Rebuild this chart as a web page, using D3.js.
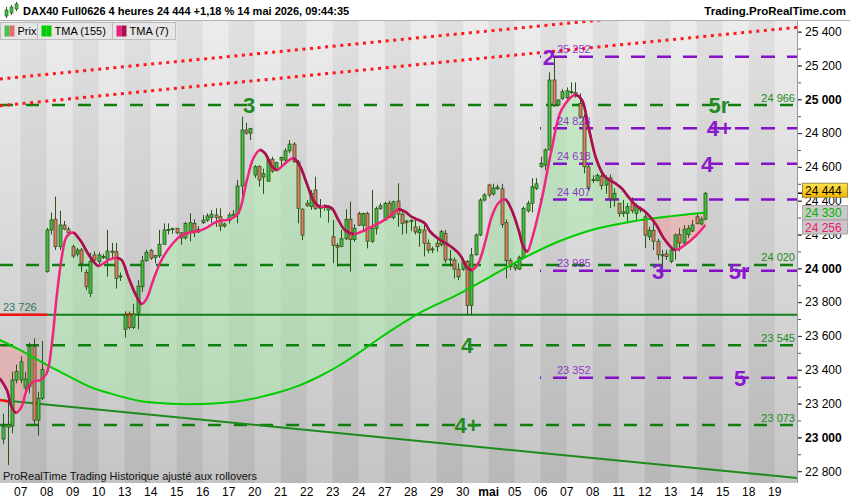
<!DOCTYPE html>
<html>
<head>
<meta charset="utf-8">
<script src="https://cdn.jsdelivr.net/npm/d3@7"></script>
<style>
  body { margin: 0; background: #fff; }
  svg { display: block; font-family: "Liberation Sans", Arial, sans-serif; }
</style>
</head>
<body>
<script>
/* DAX40 4h chart, ProRealTime style */

// day labels, one per trading day, 6 bars a day
const dayLabels = ["07","08","09","10","13","14","15","16","17","20","21","22","23","24","27","28","29","30",
                   "mai","05","06","07","08","11","12","13","14","15","18","19"];

// first bar index (bars before day 07 belong to the previous day)
const firstBar = -4;

// [open, high, low, close]
const ohlc = [
  [22990,23140,22960,23065],[23060,23220,22836,23075],[23067,23388,23024,23339],[23339,23430,23320,23390],
  // 07
  [23340,23480,23320,23447],[23297,23388,23260,23345],[23299,23560,23260,23536],[23536,23586,23080,23102],[23102,23270,23010,23231],[23231,23570,23221,23402],
  // 08
  [23980,24240,23975,24227],[24227,24330,24200,24286],[24290,24424,24108,24128],[24128,24340,24108,24256],[24256,24280,24225,24232],[24232,24245,24195,24210],
  // 09
  [24128,24140,24060,24073],[24085,24120,24070,24108],[24108,24120,23980,24030],[23975,23995,23870,23891],[23852,24090,23830,24040],[24079,24100,24030,24049],
  // 10
  [24040,24095,24020,24079],[24065,24085,24055,24070],[24055,24227,23950,24102],[24102,24150,24060,24095],[24098,24150,23880,23940],[23950,23975,23925,23955],
  // 13
  [23639,23745,23590,23724],[23724,23745,23640,23650],[23650,23790,23640,23730],[23734,23930,23640,23895],[23891,24074,23860,24045],[24045,24110,24040,24095],
  // 14
  [24105,24115,24050,24060],[24065,24080,24030,24075],[24074,24227,24062,24142],[24142,24266,24140,24227],[24225,24266,24200,24230],[24230,24240,24205,24235],
  // 15
  [24235,24240,24200,24210],[24210,24215,24140,24180],[24180,24275,24170,24265],[24215,24325,24160,24270],[24265,24290,24185,24215],[24215,24250,24210,24230],
  // 16
  [24270,24315,24262,24285],[24285,24325,24275,24310],[24300,24345,24270,24320],[24315,24355,24245,24300],[24305,24355,24220,24250],[24250,24270,24240,24262],
  // 17
  [24283,24330,24265,24315],[24310,24345,24300,24320],[24320,24522,24266,24487],[24487,24897,24404,24818],[24818,24860,24790,24800],[24800,24830,24759,24828],
  // 20
  [24552,24610,24535,24601],[24601,24610,24483,24522],[24540,24590,24440,24560],[24515,24660,24515,24645],[24645,24660,24565,24575],[24580,24630,24575,24625],
  // 21
  [24640,24660,24610,24655],[24640,24710,24630,24695],[24695,24759,24680,24735],[24735,24745,24625,24630],[24630,24640,24266,24355],[24350,24355,24167,24197],
  // 22
  [24385,24404,24365,24370],[24365,24463,24345,24444],[24463,24542,24345,24355],[24355,24410,24300,24365],[24365,24380,24340,24360],[24345,24365,24270,24360],
  // 23
  [24187,24286,24030,24135],[24135,24150,24010,24125],[24130,24227,24125,24175],[24175,24350,24167,24290],[24290,24394,23980,24170],[24170,24260,24157,24237],
  // 24
  [24325,24335,24250,24255],[24255,24330,24220,24325],[24325,24335,24118,24160],[24160,24463,24150,24237],[24237,24365,24200,24355],[24355,24385,24345,24370],
  // 27
  [24286,24394,24280,24385],[24385,24400,24296,24300],[24300,24400,24290,24394],[24398,24503,24246,24320],[24320,24330,24200,24265],[24280,24285,24205,24270],
  // 28
  [24283,24290,24220,24280],[24245,24286,24200,24215],[24210,24250,24128,24230],[24227,24270,24070,24148],[24148,24170,24089,24108],[24110,24128,24090,24115],
  // 29
  [24148,24170,24098,24128],[24140,24227,24128,24217],[24207,24227,24030,24049],[24049,24108,24010,24055],[24049,24065,23940,23995],[23995,24030,23930,23950],
  // 30
  [23995,24060,23985,24040],[24040,24049,23724,23780],[23780,24120,23724,24080],[24080,24207,24075,24197],[24197,24415,24190,24404],[24404,24445,24395,24434],
  // mai (04)
  [24493,24500,24420,24434],[24440,24500,24430,24475],[24470,24495,24465,24480],[24470,24500,24240,24260],[24270,24290,23940,24045],[24045,24060,23990,24010],
  // 05
  [24000,24030,23985,24020],[23995,24075,23990,24065],[24065,24365,24060,24355],[24340,24400,24330,24385],[24385,24533,24330,24483],[24473,24533,24463,24500],
  // 06
  [24601,24660,24595,24621],[24610,24710,24580,24700],[24700,25160,24700,25114],[25114,25252,24955,24966],[24966,25000,24960,24996],[25005,25060,24996,25045],
  // 07
  [25010,25070,24996,25050],[25040,25100,25030,25045],[25040,25100,25010,25030],[24975,25035,24890,24895],[24895,24910,24562,24601],[24601,24611,24460,24480],
  // 08
  [24525,24550,24505,24520],[24520,24560,24515,24550],[24545,24585,24465,24490],[24493,24550,24440,24535],[24535,24555,24355,24414],[24410,24473,24365,24444],
  // 11
  [24385,24385,24305,24325],[24325,24405,24305,24335],[24325,24385,24266,24365],[24390,24420,24325,24340],[24325,24385,24280,24365],[24355,24365,24330,24345],
  // 12
  [24305,24325,24120,24197],[24187,24246,24167,24225],[24225,24276,24108,24160],[24160,24175,24049,24080],[24080,24108,24010,24075],[24085,24108,24050,24070],
  // 13
  [24040,24118,24030,24108],[24108,24207,24050,24197],[24200,24237,24100,24150],[24150,24256,24140,24230],[24200,24256,24180,24237],[24220,24286,24215,24256],
  // 14
  [24305,24325,24260,24266],[24262,24305,24256,24290],[24290,24452,24285,24444]
];

// moving averages: [bar index, value]
const tma155 = [
  [-4.8,23576],[-0.2,23517],[6.1,23428],[9.1,23388],[16.0,23299],[20.6,23260],[27.5,23215],[32.2,23203],
  [36.8,23197],[41.4,23197],[46.0,23203],[50.6,23215],[55.2,23238],[59.8,23268],[64.5,23309],[69.1,23363],
  [73.7,23428],[78.3,23505],[82.9,23588],[87.5,23665],[92.1,23737],[96.8,23795],[101.4,23852],[108.3,23950],
  [117.5,24079],[124.0,24157],[131.8,24227],[139.5,24270],[147.1,24299],[158.3,24330]
];
const tma7 = [
  [-4.8,23349],[-3.2,23280],[-2.1,23181],[-1.1,23146],[0.2,23181],[1.4,23280],[2.9,23329],[4.5,23339],
  [6.0,23379],[7.2,23556],[8.3,23832],[9.5,24069],[10.6,24187],[12.1,24211],[13.7,24167],[16.0,24069],
  [17.9,24014],[19.1,24030],[20.6,24053],[22.2,24063],[23.3,24049],[24.8,23950],[26.4,23852],[27.9,23789],
  [29.1,23822],[30.6,23931],[32.5,24049],[34.8,24138],[37.2,24197],[39.5,24213],[41.8,24227],[43.3,24246],
  [44.8,24270],[46.0,24282],[48.3,24290],[50.2,24325],[52.2,24522],[53.7,24651],[55.2,24700],[56.4,24680],
  [57.9,24605],[59.1,24582],[60.6,24611],[62.9,24651],[64.5,24601],[66.0,24503],[67.5,24404],[69.1,24364],
  [70.2,24369],[71.8,24355],[73.3,24286],[74.8,24227],[76.8,24203],[78.7,24217],[81.0,24246],[83.3,24276],
  [85.6,24315],[87.1,24349],[88.7,24335],[90.2,24305],[91.8,24286],[93.3,24266],[94.5,24217],[96.8,24167],
  [99.1,24132],[101.4,24079],[102.9,24009],[104.1,23990],[105.6,24030],[107.2,24157],[108.7,24305],[110.2,24385],
  [111.8,24408],[113.3,24345],[114.9,24227],[116.0,24128],[116.9,24099],[117.9,24167],[120.2,24404],[122.5,24700],
  [124.8,24937],[127.9,25025],[129.5,24996],[131.0,24838],[132.9,24641],[134.8,24542],[137.2,24503],[138.7,24473],
  [140.2,24424],[141.8,24375],[144.1,24335],[146.4,24266],[148.7,24167],[151.0,24108],[153.3,24138],[155.6,24187],
  [158.0,24256]
];

// horizontal levels
const greenLevels = [24966, 24020, 23545, 23073];
const purpleLevels = [25252, 24828, 24618, 24407, 23985, 23352];
const supportLevel = 23726;
// sloping lines: [[bar, value], [bar, value]]
const trendLine = [[-4.8, 23221], [179.4, 22759]];
const dottedLines = [
  [[-4.8, 25120], [179.4, 25584]],
  [[-4.8, 24962], [179.4, 25426]]
];
// short red marks on lines: [bar0, bar1, value0, value1]
const redMarks = [[-4.8, 6.1, 23726, 23726], [24.1, 25.9, 23726, 23726], [-4.8, -2.0, 23221, 23207], [3.3, 4.0, 23203, 23200]];
// wave counts: text, bar, level, colour key
const waveLabels = [
  ["3", 52.7, 24966, "g"], ["5r", 161.1, 24966, "g"], ["4", 103.0, 23545, "g"], ["4+", 103.0, 23073, "g"],
  ["2", 121.9, 25252, "p"], ["4+", 161.2, 24828, "p"], ["4", 158.4, 24618, "p"], ["5r", 165.8, 23985, "p"],
  ["5", 166.0, 23352, "p"], ["3", 147.1, 23985, "p"]
];

const W = 850, H = 500;
const plot = {left: 0, right: 797, top: 21, bottom: 483};
const GREEN_LINE = "#0f7f0f", PURPLE = "#8410c8", GREEN_TXT = "#1d8a1d";

const svg = d3.select("body").append("svg").attr("width", W).attr("height", H);
const defs = svg.append("defs");

const x = d3.scaleLinear().domain([0, 174]).range([20.7, 774.7]);
const y = d3.scaleLinear().domain([22730, 25463]).range([plot.bottom, plot.top]);
const fmt = v => d3.format(",")(v).replace(/,/g, " ");

function grad(id, top, bottom) {
  const g = defs.append("linearGradient").attr("id", id)
      .attr("x1", 0).attr("x2", 0).attr("y1", 0).attr("y2", 1);
  g.append("stop").attr("offset", "0%").attr("stop-color", top);
  g.append("stop").attr("offset", "100%").attr("stop-color", bottom);
}
grad("bandLight", "#ececec", "#c5c5c5");
grad("bandDark", "#e0e0e0", "#b8b8b8");
grad("tagGold", "#ffe34d", "#f5b400");

defs.append("clipPath").attr("id", "plotClip").append("rect")
    .attr("x", plot.left).attr("y", plot.top)
    .attr("width", plot.right - plot.left).attr("height", plot.bottom - plot.top);

// ---- background day bands
const bands = svg.append("g").attr("clip-path", "url(#plotClip)");
bands.selectAll("rect").data(d3.range(-1, dayLabels.length)).join("rect")
    .attr("x", k => k < 0 ? plot.left : x(k * 6))
    .attr("width", k => (k < 0 ? x(0) - plot.left : x(k * 6 + 6) - x(k * 6)) + 0.5)
    .attr("y", plot.top).attr("height", plot.bottom - plot.top)
    .attr("fill", k => (k % 2 === 0) ? "url(#bandDark)" : "url(#bandLight)");

const chart = svg.append("g").attr("clip-path", "url(#plotClip)");

// ---- fill between the two moving averages
const curve = d3.curveCatmullRom.alpha(0.5);
const lineFn = d3.line().x(d => x(d[0])).y(d => y(d[1])).curve(curve);
const above = d3.area().x(d => x(d[0])).y0(plot.top - 20).y1(d => y(d[1])).curve(curve);
const below = d3.area().x(d => x(d[0])).y0(plot.bottom + 20).y1(d => y(d[1])).curve(curve);
defs.append("clipPath").attr("id", "aboveSlow").append("path").attr("d", above(tma155));
defs.append("clipPath").attr("id", "belowSlow").append("path").attr("d", below(tma155));

const between = lineFn(tma7) + "L" + lineFn(tma155.slice().reverse()).slice(1) + "Z";
chart.append("g").attr("clip-path", "url(#aboveSlow)")
  .append("path").attr("d", between).attr("fill", "#a6eaa6").attr("fill-opacity", 0.5);
chart.append("g").attr("clip-path", "url(#belowSlow)")
  .append("path").attr("d", between).attr("fill", "#f39a9a").attr("fill-opacity", 0.5);

// ---- levels
chart.selectAll("line.glevel").data(greenLevels).join("line")
    .attr("class", "glevel")
    .attr("x1", plot.left).attr("x2", plot.right)
    .attr("y1", d => y(d)).attr("y2", d => y(d))
    .attr("stroke", GREEN_LINE).attr("stroke-width", 2.5).attr("stroke-dasharray", "13,13");

chart.selectAll("line.plevel").data(purpleLevels).join("line")
    .attr("class", "plevel")
    .attr("x1", 540).attr("x2", plot.right)
    .attr("y1", d => y(d)).attr("y2", d => y(d))
    .attr("stroke", PURPLE).attr("stroke-width", 2.5)
    .attr("stroke-dasharray", "14,12").attr("stroke-dashoffset", 13);

chart.append("line")
    .attr("x1", plot.left).attr("x2", plot.right)
    .attr("y1", y(supportLevel)).attr("y2", y(supportLevel))
    .attr("stroke", "#12801a").attr("stroke-width", 2);

chart.append("line")
    .attr("x1", x(trendLine[0][0])).attr("y1", y(trendLine[0][1]))
    .attr("x2", x(trendLine[1][0])).attr("y2", y(trendLine[1][1]))
    .attr("stroke", "#1e8a1e").attr("stroke-width", 2);

chart.selectAll("line.dotted").data(dottedLines).join("line")
    .attr("class", "dotted")
    .attr("x1", d => x(d[0][0])).attr("y1", d => y(d[0][1]))
    .attr("x2", d => x(d[1][0])).attr("y2", d => y(d[1][1]))
    .attr("stroke", "#ff1a1a").attr("stroke-width", 3).attr("stroke-dasharray", "3,4.6");

chart.selectAll("line.redmark").data(redMarks).join("line")
    .attr("class", "redmark")
    .attr("x1", d => x(d[0])).attr("x2", d => x(d[1]))
    .attr("y1", d => y(d[2])).attr("y2", d => y(d[3]))
    .attr("stroke", "#ff1010").attr("stroke-width", 2.5);

// ---- candles
const bars = ohlc.map((d, k) => ({i: firstBar + k, o: d[0], h: d[1], l: d[2], c: d[3]}));
const candle = chart.append("g").selectAll("g").data(bars).join("g");
candle.append("line")
    .attr("x1", d => Math.round(x(d.i)) + 0.5).attr("x2", d => Math.round(x(d.i)) + 0.5)
    .attr("y1", d => y(d.h)).attr("y2", d => y(d.l))
    .attr("stroke", "#2b5418").attr("stroke-width", 1);
candle.append("rect")
    .attr("x", d => Math.round(x(d.i)) - 1)
    .attr("width", 3)
    .attr("y", d => y(Math.max(d.o, d.c)))
    .attr("height", d => Math.max(1, Math.abs(y(d.o) - y(d.c))))
    .attr("fill", d => d.c >= d.o ? "#3ec23e" : "#e67a66")
    .attr("stroke", "#2b5418").attr("stroke-width", 0.8);

// ---- moving averages
chart.append("path").attr("d", lineFn(tma155))
    .attr("fill", "none").attr("stroke", "#00cc00").attr("stroke-width", 2);

chart.append("path").attr("d", lineFn(tma7))
    .attr("fill", "none").attr("stroke", "#f0247f").attr("stroke-width", 2.5);
const fallClip = defs.append("clipPath").attr("id", "falling");
d3.pairs(tma7).filter(p => p[1][1] < p[0][1]).forEach(p => {
  fallClip.append("rect").attr("x", x(p[0][0])).attr("width", x(p[1][0]) - x(p[0][0]) + 0.3)
      .attr("y", 0).attr("height", H);
});
chart.append("path").attr("d", lineFn(tma7)).attr("clip-path", "url(#falling)")
    .attr("fill", "none").attr("stroke", "#a3124f").attr("stroke-width", 2.5);

// ---- level labels
chart.selectAll("text.glab").data(greenLevels).join("text")
    .attr("class", "glab")
    .attr("x", 795).attr("y", d => y(d) - 3.5)
    .attr("text-anchor", "end").attr("font-size", 11).attr("fill", GREEN_TXT)
    .text(fmt);
chart.selectAll("text.plab").data(purpleLevels).join("text")
    .attr("class", "plab")
    .attr("x", 557).attr("y", d => y(d) - 3.5)
    .attr("font-size", 11).attr("fill", PURPLE).attr("fill-opacity", 0.85)
    .text(fmt);
chart.append("text")
    .attr("x", 3).attr("y", y(supportLevel) - 3.5)
    .attr("font-size", 11).attr("fill", "#2a7a5a").text(fmt(supportLevel));

chart.selectAll("text.wave").data(waveLabels).join("text")
    .attr("class", "wave")
    .attr("x", d => x(d[1])).attr("y", d => y(d[2]) + 8)
    .attr("text-anchor", "middle").attr("font-size", 22).attr("font-weight", "bold")
    .attr("fill", d => d[3] === "g" ? "#1e8c1e" : "#8a18cc")
    .text(d => d[0]);

chart.append("text").attr("x", 3).attr("y", 480)
    .attr("font-size", 11).attr("fill", "#111")
    .text("ProRealTime Trading  Historique ajusté aux rollovers");

// ---- right axis
svg.append("rect").attr("x", plot.right).attr("y", plot.top)
    .attr("width", W - plot.right).attr("height", H - plot.top).attr("fill", "#fff");
svg.append("rect").attr("x", 0).attr("y", plot.bottom)
    .attr("width", W).attr("height", H - plot.bottom).attr("fill", "#fff");
svg.append("line").attr("x1", plot.right + 0.5).attr("x2", plot.right + 0.5)
    .attr("y1", plot.top).attr("y2", plot.bottom).attr("stroke", "#9a9a9a");

const minor = svg.append("g").attr("transform", `translate(${plot.right + 1},0)`)
    .call(d3.axisRight(y).tickValues(d3.range(22800, 25401, 100)).tickSize(3).tickFormat(""));
minor.select(".domain").remove();
minor.selectAll("line").attr("stroke", "#555");

const yAxis = svg.append("g").attr("transform", `translate(${plot.right + 1},0)`)
    .call(d3.axisRight(y).tickValues(d3.range(22800, 25401, 200)).tickSize(4).tickFormat(fmt));
yAxis.select(".domain").remove();
yAxis.selectAll("line").attr("stroke", "#333");
yAxis.selectAll("text")
    .attr("x", 7).attr("font-size", 12).attr("fill", "#000")
    .attr("font-family", "'Liberation Sans', Arial, sans-serif")
    .attr("font-weight", d => d % 1000 === 0 ? "bold" : "normal");

// price tags (last price slightly raised, others pushed down to stay apart)
const lastClose = ohlc[ohlc.length - 1][3];
const tags = [
  {v: lastClose, fill: "url(#tagGold)", txt: "#000", stroke: "#a08a40"},
  {v: tma155[tma155.length - 1][1], fill: "#c9c9c9", txt: "#00b400", stroke: "#aaa"},
  {v: tma7[tma7.length - 1][1], fill: "#cdc4c6", txt: "#e8207a", stroke: "#aaa"}
];
tags.forEach(t => t.cy = y(t.v));
tags[0].cy -= 3;
for (let k = 1; k < tags.length; k++) {
  tags[k].cy = Math.max(tags[k].cy, tags[k - 1].cy + 14.5);
}
svg.append("line").attr("x1", plot.right + 1).attr("x2", plot.right + 8)
    .attr("y1", y(lastClose)).attr("y2", y(lastClose)).attr("stroke", "#000").attr("stroke-width", 1.5);
const tagG = svg.append("g").selectAll("g").data(tags).join("g");
tagG.append("rect").attr("x", 802.5).attr("y", d => d.cy - 7).attr("width", 45).attr("height", 14)
    .attr("fill", d => d.fill).attr("stroke", d => d.stroke);
tagG.append("text").attr("x", 805).attr("y", d => d.cy + 4.5)
    .attr("font-size", 12).attr("fill", d => d.txt).text(d => fmt(d.v));

// ---- bottom axis (day labels)
svg.append("g").selectAll("text").data(dayLabels).join("text")
    .attr("x", (d, k) => x(k * 6)).attr("y", 496)
    .attr("text-anchor", "middle").attr("font-size", 12).attr("fill", "#000")
    .attr("font-weight", d => d === "mai" ? "bold" : "normal")
    .text(d => d);

// ---- header
svg.append("rect").attr("x", 0).attr("y", 0).attr("width", W).attr("height", plot.top).attr("fill", "#fff");
svg.append("line").attr("x1", 0).attr("x2", W).attr("y1", plot.top - 0.5).attr("y2", plot.top - 0.5).attr("stroke", "#b0b0b0");
const icon = svg.append("g");
icon.append("line").attr("x1", 6.5).attr("x2", 6.5).attr("y1", 7).attr("y2", 18).attr("stroke", "#2b5418");
icon.append("rect").attr("x", 5).attr("y", 10).attr("width", 3).attr("height", 6).attr("fill", "#3ec23e").attr("stroke", "#2b5418").attr("stroke-width", 0.6);
icon.append("line").attr("x1", 11.5).attr("x2", 11.5).attr("y1", 5).attr("y2", 15).attr("stroke", "#2b5418");
icon.append("rect").attr("x", 10).attr("y", 7).attr("width", 3).attr("height", 6).attr("fill", "#3ec23e").attr("stroke", "#2b5418").attr("stroke-width", 0.6);
icon.append("line").attr("x1", 16.5).attr("x2", 16.5).attr("y1", 2).attr("y2", 11).attr("stroke", "#2b5418");
icon.append("rect").attr("x", 15).attr("y", 4).attr("width", 3).attr("height", 5).attr("fill", "#3ec23e").attr("stroke", "#2b5418").attr("stroke-width", 0.6);

svg.append("text").attr("x", 23).attr("y", 15)
    .attr("font-size", 11).attr("font-weight", "bold").attr("fill", "#000")
    .text("DAX40 Full0626 4 heures 24 444 +1,18 % 14 mai 2026, 09:44:35");
svg.append("text").attr("x", 846).attr("y", 15).attr("text-anchor", "end")
    .attr("font-size", 11.5).attr("font-weight", "bold").attr("fill", "#000")
    .text("Trading.ProRealTime.com");

// ---- legend
const legendItems = [
  {label: "Prix", w: 37, sw: ["#4cbf4c", "#e07070"]},
  {label: "TMA (155)", w: 75, sw: ["#00cc00", "#00cc00"]},
  {label: "TMA (7)", w: 63, sw: ["#f0207f", "#a3124f"]}
];
let lx = 0.5;
legendItems.forEach(it => {
  const g = svg.append("g").attr("transform", `translate(${lx},22.5)`);
  g.append("rect").attr("width", it.w).attr("height", 17).attr("fill", "#e6e6e6").attr("stroke", "#bdbdbd");
  g.append("rect").attr("x", 4).attr("y", 3).attr("width", 5).attr("height", 11).attr("fill", it.sw[0]);
  g.append("rect").attr("x", 9).attr("y", 3).attr("width", 5).attr("height", 11).attr("fill", it.sw[1]);
  g.append("text").attr("x", 17).attr("y", 12.5).attr("font-size", 11).attr("fill", "#000").text(it.label);
  lx += it.w;
});
</script>
</body>
</html>
